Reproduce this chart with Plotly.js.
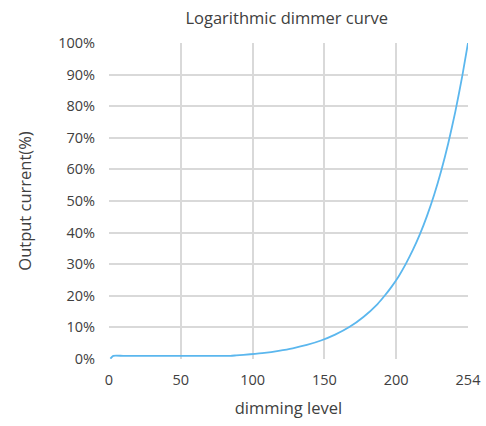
<!DOCTYPE html>
<html>
<head>
<meta charset="utf-8">
<script src="https://cdn.plot.ly/plotly-3.0.1.min.js"></script>
<style>html,body{margin:0;padding:0;background:#fff;}#chart{width:486px;height:426px;}</style>
</head>
<body>
<div id="chart"></div>
<script>
// dimming level (x) and output current in % (y)
var dimmingLevel = [1, 3, 10, 20, 30, 40, 50, 60, 70, 80, 86, 90, 100, 110, 120, 130, 140, 150, 160, 170, 180, 190, 195, 200, 205, 210, 215, 220, 225, 230, 235, 240, 245, 250, 254];
var outputCurrent = [0.1, 1.0, 1.0, 1.0, 1.0, 1.0, 1.0, 1.0, 1.0, 1.0, 1.0, 1.14, 1.5, 1.95, 2.6, 3.4, 4.45, 5.85, 7.7, 10.1, 13.3, 17.4, 20.0, 22.9, 26.2, 30.1, 34.5, 39.5, 45.3, 51.9, 59.5, 68.2, 78.2, 89.7, 100];
var xTickLabels = ['0', '50', '100', '150', '200', '254'];
var yTickLabels = ['0%', '10%', '20%', '30%', '40%', '50%', '60%', '70%', '80%', '90%', '100%'];
var yTickValues = [0, 10, 20, 30, 40, 50, 60, 70, 80, 90, 100];

var xMax = 254;
var xTickValues = xTickLabels.map(function (_, i) { return i * xMax / (xTickLabels.length - 1); });

var font = 'Open Sans, Lato, sans-serif';
var textColor = '#404040';
var grid = '#d9d9d9';

Plotly.newPlot('chart', [{
  x: dimmingLevel,
  y: outputCurrent,
  type: 'scatter',
  mode: 'lines',
  line: {color: '#5bb7ee', width: 1.8, shape: 'spline', smoothing: 0.6},
  hoverinfo: 'skip'
}], {
  width: 486,
  height: 426,
  margin: {l: 109, r: 18, t: 43, b: 67},
  paper_bgcolor: '#fff',
  plot_bgcolor: '#fff',
  showlegend: false,
  title: {text: 'Logarithmic dimmer curve', font: {family: font, size: 16.5, color: textColor}, x: 0.59, xanchor: 'center', y: 0.958, yanchor: 'middle'},
  xaxis: {
    range: [0, xMax],
    tickvals: xTickValues,
    ticktext: xTickLabels,
    showgrid: true,
    gridcolor: grid,
    gridwidth: 2,
    zeroline: false,
    showline: false,
    ticks: 'outside',
    ticklen: 8,
    tickcolor: 'rgba(0,0,0,0)',
    tickfont: {family: font, size: 14.5, color: textColor},
    title: {text: 'dimming level', font: {family: font, size: 16.5, color: textColor}, standoff: 14}
  },
  yaxis: {
    range: [0, 100],
    tickvals: yTickValues,
    ticktext: yTickLabels,
    showgrid: true,
    gridcolor: grid,
    gridwidth: 2,
    zeroline: false,
    showline: false,
    ticks: 'outside',
    ticklen: 10,
    tickcolor: 'rgba(0,0,0,0)',
    tickfont: {family: font, size: 14.5, color: textColor},
    title: {text: 'Output current(%)', font: {family: font, size: 16.5, color: textColor}, standoff: 22}
  }
}, {displayModeBar: false, staticPlot: true});
</script>
</body>
</html>
